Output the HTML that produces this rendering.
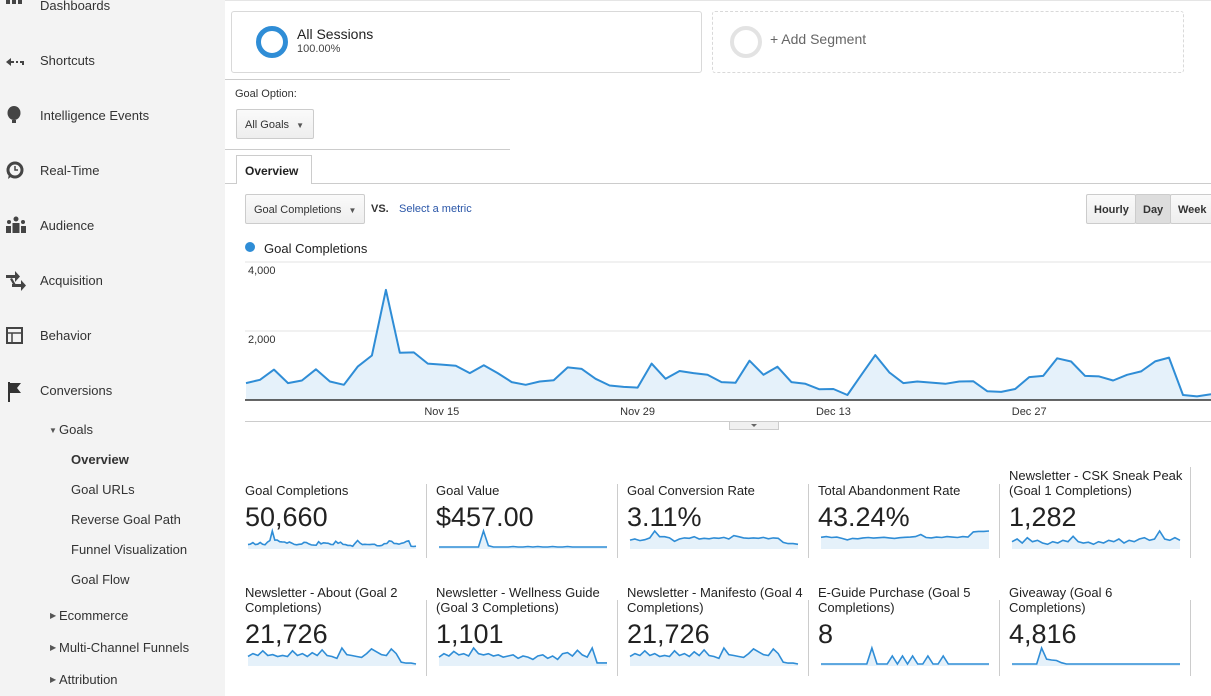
<!DOCTYPE html>
<html><head><meta charset="utf-8">
<style>
*{box-sizing:border-box;margin:0;padding:0}
body{width:1211px;height:696px;overflow:hidden;background:#fff;font-family:"Liberation Sans",Arial,sans-serif;color:#222;position:relative}
.abs{position:absolute}
#side{left:0;top:0;width:225px;height:696px;background:#f3f3f3}
.nav{position:absolute;left:40px;font-size:13px;color:#333}
.ico{position:absolute;left:6px;width:18px;height:16px;color:#444}
.sub{position:absolute;font-size:13px;color:#333}
.tri{position:absolute;font-size:8px;color:#555}
.btn{position:absolute;border:1px solid #ccc;border-radius:2px;background:linear-gradient(#fafafa,#eee);font-size:11px;color:#333}
</style></head><body>
<div id="side" class="abs">
 <div class="ico" style="top:-6px"><svg width="16" height="14"><g fill="#444"><rect x="0" y="0" width="4" height="4"/><rect x="6" y="0" width="4" height="4"/><rect x="12" y="0" width="4" height="4"/><rect x="0" y="6" width="4" height="4"/><rect x="6" y="6" width="4" height="4"/><rect x="12" y="6" width="4" height="4"/></g></svg></div>
 <div class="nav" style="top:-2px">Dashboards</div>
 <div class="ico" style="top:55px"><svg width="20" height="12"><path d="M0 6 L5 2 L5 10Z M5 5h3v2H5z M10 5h2v2h-2z M14 5h4v4h-2V7h-2z" fill="#444"/></svg></div>
 <div class="nav" style="top:53px">Shortcuts</div>
 <div class="ico" style="top:106px"><svg width="16" height="20"><ellipse cx="8" cy="7" rx="6.5" ry="7" fill="#444"/><rect x="6" y="14" width="4" height="3" fill="#444"/></svg></div>
 <div class="nav" style="top:108px">Intelligence Events</div>
 <div class="ico" style="top:161px"><svg width="18" height="20"><circle cx="9" cy="9" r="7" fill="none" stroke="#444" stroke-width="3"/><path d="M9 5v4h3" stroke="#444" stroke-width="1.5" fill="none"/><path d="M3 13l-1 5 4-3z" fill="#444"/></svg></div>
 <div class="nav" style="top:163px">Real-Time</div>
 <div class="ico" style="top:216px"><svg width="20" height="18"><g fill="#444"><circle cx="10" cy="3" r="2.5"/><circle cx="3" cy="6" r="2"/><circle cx="17" cy="6" r="2"/><rect x="6.5" y="7" width="7" height="10"/><rect x="0" y="10" width="5" height="7"/><rect x="15" y="10" width="5" height="7"/></g></svg></div>
 <div class="nav" style="top:218px">Audience</div>
 <div class="ico" style="top:270px"><svg width="22" height="22"><g fill="#444"><rect x="0" y="5" width="10" height="3"/><path d="M9 1l5 5.5-5 5.5z"/><rect x="6" y="14" width="10" height="3"/><path d="M15 10l5 5.5-5 5.5z"/><path d="M6 8l4 7-2 1-4-7z"/></g></svg></div>
 <div class="nav" style="top:273px">Acquisition</div>
 <div class="ico" style="top:327px"><svg width="18" height="18"><rect x="1" y="1" width="15" height="15" fill="none" stroke="#444" stroke-width="2"/><path d="M1 6h15M6 6v10" stroke="#444" stroke-width="1.5"/></svg></div>
 <div class="nav" style="top:328px">Behavior</div>
 <div class="ico" style="top:382px"><svg width="18" height="20"><rect x="2" y="0" width="2" height="20" fill="#333"/><path d="M4 1h11l-4 5 4 5H4z" fill="#333"/></svg></div>
 <div class="nav" style="top:383px">Conversions</div>
 <div class="tri" style="left:49px;top:426px">&#9660;</div>
 <div class="sub" style="left:59px;top:422px">Goals</div>
 <div class="sub" style="left:71px;top:452px;font-weight:bold">Overview</div>
 <div class="sub" style="left:71px;top:482px">Goal URLs</div>
 <div class="sub" style="left:71px;top:512px">Reverse Goal Path</div>
 <div class="sub" style="left:71px;top:542px">Funnel Visualization</div>
 <div class="sub" style="left:71px;top:572px">Goal Flow</div>
 <div class="tri" style="left:50px;top:611px">&#9654;</div>
 <div class="sub" style="left:59px;top:608px">Ecommerce</div>
 <div class="tri" style="left:50px;top:643px">&#9654;</div>
 <div class="sub" style="left:59px;top:640px">Multi-Channel Funnels</div>
 <div class="tri" style="left:50px;top:675px">&#9654;</div>
 <div class="sub" style="left:59px;top:672px">Attribution</div>
</div>

<div class="abs" style="left:225px;top:0;width:986px;height:1px;background:#e5e5e5"></div>
<div class="abs" style="left:231px;top:11px;width:471px;height:62px;border:1px solid #d9d9d9;border-radius:3px">
 <div class="abs" style="left:24px;top:14px;width:32px;height:32px;border:5px solid #2f8dd6;border-radius:50%"></div>
 <div class="abs" style="left:65px;top:14px;font-size:14px;color:#222">All Sessions</div>
 <div class="abs" style="left:65px;top:31px;font-size:11px;color:#444">100.00%</div>
</div>
<div class="abs" style="left:712px;top:11px;width:472px;height:62px;border:1px dashed #d9d9d9;border-radius:3px">
 <div class="abs" style="left:17px;top:14px;width:32px;height:32px;border:4px solid #e3e3e3;border-radius:50%"></div>
 <div class="abs" style="left:57px;top:19px;font-size:14px;color:#666">+ Add Segment</div>
</div>
<div class="abs" style="left:225px;top:79px;width:285px;height:1px;background:#ccc"></div>
<div class="abs" style="left:235px;top:88px;font-size:11px;color:#333">Goal Option:</div>
<div class="btn" style="left:236px;top:109px;width:78px;height:30px;padding:9px 0 0 8px">All Goals <span style="font-size:8px;color:#555;margin-left:4px">&#9660;</span></div>
<div class="abs" style="left:225px;top:149px;width:285px;height:1px;background:#ccc"></div>
<div class="abs" style="left:236px;top:155px;width:76px;height:29px;border:1px solid #ccc;border-bottom:none;background:#fff;font-size:12px;font-weight:bold;padding:8px 0 0 8px;z-index:2">Overview</div>
<div class="abs" style="left:225px;top:183px;width:986px;height:1px;background:#ccc"></div>
<div class="btn" style="left:245px;top:194px;width:120px;height:30px;padding:9px 0 0 8px">Goal Completions <span style="font-size:8px;color:#555;margin-left:4px">&#9660;</span></div>
<div class="abs" style="left:371px;top:203px;font-size:11px;font-weight:bold;color:#333">VS.</div>
<div class="abs" style="left:399px;top:203px;font-size:11px;color:#2a56a8">Select a metric</div>
<div class="btn" style="left:1086px;top:194px;width:50px;height:30px;padding:9px 0 0 7px;font-weight:bold">Hourly</div>
<div class="btn" style="left:1135px;top:194px;width:36px;height:30px;padding:9px 0 0 7px;font-weight:bold;background:#ddd">Day</div>
<div class="btn" style="left:1170px;top:194px;width:45px;height:30px;padding:9px 0 0 7px;font-weight:bold">Week</div>
<div class="abs" style="left:245px;top:242px;width:10px;height:10px;border-radius:50%;background:#2f8dd6"></div>
<div class="abs" style="left:264px;top:241px;font-size:13px;color:#222">Goal Completions</div>

<svg id="chart" class="abs" style="left:0;top:0" width="1211" height="696"></svg>

<script>
const mainValues=[490,585,880,490,565,890,535,440,975,1290,3190,1370,1380,1055,1025,995,780,1005,780,520,440,535,575,945,900,615,420,380,360,1055,615,840,780,730,520,500,1140,730,965,520,470,310,320,145,730,1300,800,490,535,505,470,535,545,255,235,320,665,700,1210,1115,700,685,565,730,830,1120,1230,145,105,165];
const yTicks=[2000,4000];
const yTickLabels=["2,000","4,000"];
const xTickIdx=[14,28,42,56];
const xTickLabels=["Nov 15","Nov 29","Dec 13","Dec 27"];

const cardTitles=[["Goal Completions"],["Goal Value"],["Goal Conversion Rate"],["Total Abandonment Rate"],["Newsletter - CSK Sneak Peak","(Goal 1 Completions)"],["Newsletter - About (Goal 2","Completions)"],["Newsletter - Wellness Guide","(Goal 3 Completions)"],["Newsletter - Manifesto (Goal 4","Completions)"],["E-Guide Purchase (Goal 5","Completions)"],["Giveaway (Goal 6","Completions)"]];
const cardValues=["50,660","$457.00","3.11%","43.24%","1,282","21,726","1,101","21,726","8","4,816"];
const sparkGoalValue=[0,0,0,0,0,0,0,0,0,100,8,0,0,0,0,3,0,0,3,0,3,0,0,3,0,0,3,0,0,0,0,0,0,0,0];
const sparkConvRate=[30,35,28,32,40,70,45,45,40,25,35,40,38,45,35,38,36,40,38,42,35,50,45,40,38,40,38,42,36,40,38,20,15,15,12];
const sparkAbandon=[45,48,44,46,40,33,40,38,42,44,41,43,45,42,40,43,45,46,48,58,44,42,46,44,48,46,44,48,46,70,72,72,74];
const sparkGoal1=[20,30,15,35,20,25,15,10,20,15,25,20,40,20,15,18,10,20,15,25,20,30,15,25,20,30,35,25,30,60,30,25,35,25];
const sparkGoal2=[40,55,45,70,45,50,40,45,40,70,45,55,40,60,45,75,45,40,30,85,50,45,40,35,55,80,65,50,45,80,55,10,5,5,0];
const sparkGoal3=[30,45,35,55,40,45,35,70,45,40,45,35,40,30,35,40,25,35,30,20,35,40,25,35,20,45,50,35,60,40,30,70,5,5,5];
const sparkGoal4=[40,55,45,70,45,55,40,45,40,70,45,55,40,65,45,75,45,40,30,85,50,45,40,35,55,80,65,50,45,80,55,10,5,5,0];
const sparkGoal5=[0,0,0,0,0,0,0,0,0,0,100,0,0,0,50,0,50,0,50,0,0,50,0,0,50,0,0,0,0,0,0,0,0,0];
const sparkGoal6=[0,0,0,0,0,0,100,30,25,22,8,0,0,0,0,0,0,0,0,0,0,0,0,0,0,0,0,0,0,0,0,0,0,0,0];

const NS="http://www.w3.org/2000/svg";
const svg=document.getElementById('chart');
function mk(tag,attrs,parent){const e=document.createElementNS(NS,tag);for(const k in attrs)e.setAttribute(k,attrs[k]);(parent||svg).appendChild(e);return e;}
const X0=246,X1=1211,Y0=400,YTOP=262,YMAX=4000;
const xs=i=>X0+i*(X1-X0)/(mainValues.length-1);
const ys=v=>Y0-v*(Y0-YTOP)/YMAX;
yTicks.forEach((t,i)=>{
 const g=mk('line',{x1:245,x2:1211,y1:ys(t),y2:ys(t),stroke:'#e3e3e3','stroke-width':1});
 
 
 const tx=mk('text',{x:248,y:ys(t)+12,'font-size':11,fill:'#333','font-family':'Liberation Sans, sans-serif'});
 tx.textContent=yTickLabels[i];
 
 
});
let d='M'+xs(0)+' '+ys(mainValues[0]);
mainValues.forEach((v,i)=>{if(i)d+=' L'+xs(i).toFixed(1)+' '+ys(v).toFixed(1);});
const area=mk('path',{d:d+' L'+xs(mainValues.length-1)+' '+Y0+' L'+xs(0)+' '+Y0+'Z',fill:'#e5f1fa'});


const ln=mk('path',{d:d,fill:'none',stroke:'#2f8dd6','stroke-width':2,'stroke-linejoin':'round'});


const base=mk('line',{x1:245,x2:1211,y1:Y0,y2:Y0,stroke:'#333','stroke-width':1.5});


xTickIdx.forEach((idx,i)=>{
 const tx=mk('text',{x:xs(idx),y:415,'font-size':11,fill:'#333','text-anchor':'middle','font-family':'Liberation Sans, sans-serif'});
 tx.textContent=xTickLabels[i];
 
 
});
mk('line',{x1:245,x2:1211,y1:421.5,y2:421.5,stroke:'#ccc'});
const hd=mk('rect',{x:729.5,y:421.5,width:49,height:8,fill:'#f0f0f0',stroke:'#ccc'});


mk('path',{d:'M751 424 L757 424 L754 427Z',fill:'#666'});

const sparks=[mainValues,sparkGoalValue,sparkConvRate,sparkAbandon,sparkGoal1,sparkGoal2,sparkGoal3,sparkGoal4,sparkGoal5,sparkGoal6];
const colX=[245,436,627,818,1009];
sparks.forEach((arr,k)=>{
 const row=k<5?0:1, col=k%5, cx=colX[col];
 const twoLine=cardTitles[k].length>1;
 let ty=row===0?(twoLine?467:482):584;
 const valY=row===0?526:643;
 const sb=row===0?549:666, sh=18;
 cardTitles[k].forEach((t,j)=>{
  const tx=mk('text',{x:cx,y:ty+13+j*15,'font-size':13,fill:'#222','font-family':'Liberation Sans, sans-serif'});
  tx.textContent=t;
  
  
 });
 const vt=mk('text',{x:cx,y:valY,'font-size':27,fill:'#222','font-family':'Liberation Sans, sans-serif'});
 vt.textContent=cardValues[k];
 
 
 const mx=Math.max(...arr)||1, w=168;
 const sx=i=>cx+3+i*w/(arr.length-1), sy=v=>sb-2-v/mx*(sh-2);
 let p='M'+sx(0)+' '+sy(arr[0]);
 arr.forEach((v,i)=>{if(i)p+=' L'+sx(i).toFixed(1)+' '+sy(v).toFixed(1);});
 const fa=mk('path',{d:p+' L'+sx(arr.length-1)+' '+sb+' L'+sx(0)+' '+sb+'Z',fill:'#e5f1fa'});
 
 
 const sl=mk('path',{d:p,fill:'none',stroke:'#2f8dd6','stroke-width':1.6});
 
 
 const sp=mk('line',{x1:cx+181.5,x2:cx+181.5,y1:row===0?(col===4?467:484):600,y2:row===0?558:676,stroke:'#ccc'});
 
 
});
</script>
</body></html>
